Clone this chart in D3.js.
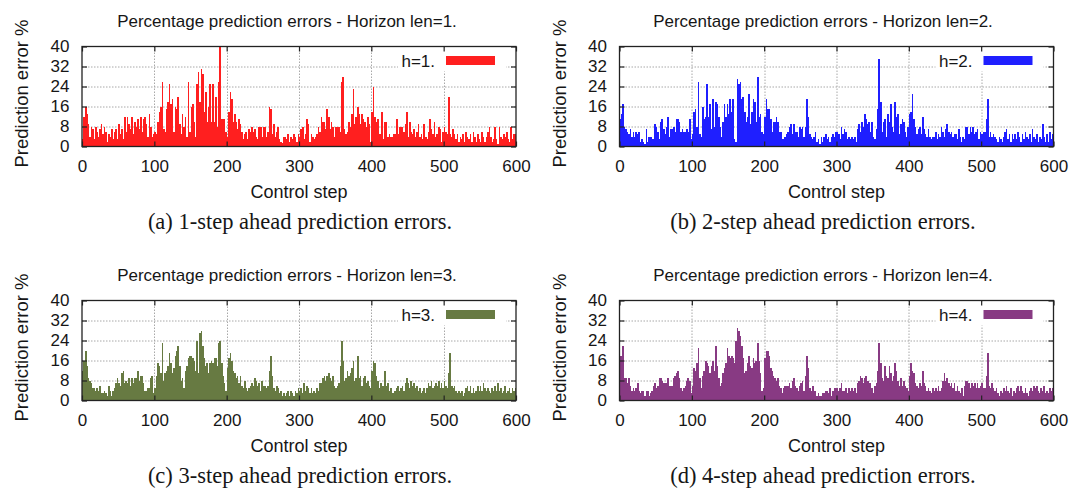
<!DOCTYPE html>
<html>
<head>
<meta charset="utf-8">
<script src="https://cdn.jsdelivr.net/npm/d3@7"></script>
<style>
  body { margin: 0; background: #fff; }
  svg text { font-family: "Liberation Sans", Arial, sans-serif; fill: #161616; }
  svg text.caption { font-family: "Liberation Serif", "Times New Roman", serif; }
</style>
</head>
<body>
<div id="chart"></div>
<script>

// ticks
var xTicks = [0, 100, 200, 300, 400, 500, 600];
var yTicks = [0, 8, 16, 24, 32, 40];

// one value every 2 control steps (0, 2, 4 ... 598)
var stepGap = 2;

var errH1 = [
  3,12,16,13,9, 4,8,7,3,8, 6,4,7,9,5, 8,6,2,5,4, 7,3,6,7,3,
  9,5,7,3,12, 6,12,9,7,12, 5,10,8,11,7, 12,6,11,12,9, 4,13,8,4,5,
  6,5,10,14,16, 26,7,6,15,18, 25,17,19,6,16, 15,20,9,5,13, 8,12,4,26,6,
  16,17,10,4,25, 30,18,31,29,14, 22,10,16,25,10, 25,10,20,8,26, 40,11,11,11,6,
  4,14,22,19,10, 13,10,7,11,9, 6,3,5,6,3, 7,6,8,6,7, 4,3,8,8,4,
  8,8,4,6,16, 15,5,9,4,6, 8,3,2,1.5,4, 4,3,5,2,4, 3,5,4,2,5,
  4,7,8,3,5, 11,9,2,5,4, 3,4,5,8,6, 12,10,10,7,15, 12,7,10,8,4,
  8,8,8,6,26, 28,7,5,6,10, 8,13,23,9,12, 16,13,9,13,11, 10,8,12,9,2,
  14,24,12,10,11, 5,5,14,3,10, 10,4,5,4,4, 5,5,11,5,8, 8,8,6,9,14,
  4,10,6,5,7, 4,6,9,4,5, 3,9,4,3,6, 11,7,5,10,4, 5,8,7,2,6,
  8,6,5,20,5, 4,7,5,3,5, 2,4,3,5,2, 6,4,3,5,2, 6,4,2,5,3,
  2,6,4,2,4, 6,8,4,2,3, 8,3,1,8,4, 3,5,4,6,3, 2,8,3,5,5
];

var errH2 = [
  11,13,17,8,7, 6,5,7,4,6, 4,6,5,6,2, 3,2,1,7,2, 4,4,3,3,9,
  8,6,3,10,11, 7,5,8,12,4, 7,7,8,6,11, 11,10,6,7,6, 6,7,6,11,3,
  5,14,15,8,26, 5,4,16,11,12, 25,12,17,7,19, 8,18,17,12,8, 4,10,17,12,17,
  13,19,14,19,3, 2,27,25,26,19, 20,14,10,12,21, 9,14,19,18,10, 28,12,13,6,5,
  12,19,15,15,11, 6,10,10,12,10, 6,6,3,3,4, 5,6,8,9,5, 9,6,6,4,8,
  7,8,4,8,19, 12,5,4,3,4, 6,2,3,1,4, 2,4,5,3,4, 2,4,5,4,6,
  6,5,3,8,5, 7,6,3,4,3, 4,3,4,2,7, 9,6,10,8,13, 11,9,10,6,10,
  4,3,7,15,35, 18,6,10,11,4, 13,10,17,8,6, 18,12,13,5,9, 11,10,6,4,8,
  13,14,21,11,8, 5,7,8,5,12, 7,5,4,7,4, 3,4,4,6,3, 5,4,8,6,4,
  7,9,6,5,6, 4,5,5,3,7, 4,2,4,3,8, 8,5,8,6,8, 5,6,7,3,6,
  5,6,6,11,19, 4,6,4,5,4, 3,2,4,3,2, 4,6,7,3,5, 2,5,3,5,3,
  6,4,2,5,3, 6,4,3,5,2, 7,4,3,5,2, 4,3,9,4,2, 5,2,6,3,5
];

var errH3 = [
  12,16,20,14,9, 8,7,5,5,4, 5,4,6,3,3, 4,3,2,6,4, 2,4,5,7,9,
  7,6,11,12,7, 8,7,9,6,9, 7,9,9,12,8, 10,10,7,4,4, 5,5,9,10,3,
  5,10,15,14,11, 23,8,11,12,14, 19,15,11,13,18, 20,22,14,8,9, 5,12,14,17,18,
  18,17,16,12,24, 11,27,28,22,17, 14,15,11,15,16, 15,17,17,14,23, 24,15,10,7,4,
  13,17,19,16,12, 11,9,10,7,10, 6,5,8,5,4, 5,6,7,6,9, 8,6,7,4,8,
  6,6,5,6,12, 18,10,5,4,6, 5,3,4,2,3, 2,3,4,2,4, 3,2,4,3,5,
  4,5,3,7,4, 6,5,3,5,3, 4,3,5,4,7, 7,9,10,8,10, 11,9,8,10,6,
  5,6,7,14,24, 16,8,9,12,10, 11,13,16,8,9, 18,9,10,6,9, 10,7,8,6,5,
  12,16,15,10,8, 5,7,6,6,12, 6,7,4,5,3, 3,4,5,6,4, 5,6,4,7,9,
  7,5,8,6,7, 5,6,4,5,3, 4,5,3,5,7, 6,8,5,6,7, 6,8,5,7,5,
  8,6,5,11,19, 6,5,6,4,3, 4,3,4,2,3, 5,6,4,6,3, 5,3,4,6,4,
  6,4,7,5,4, 5,4,3,5,4, 6,4,7,4,5, 3,4,6,3,4, 5,3,5,4,5
];

var errH4 = [
  18,18,22,9,9, 7,9,6,4,5, 4,5,7,4,3, 4,4,2,4,4, 2,3,4,6,7,
  5,6,9,9,8, 7,7,7,9,6, 6,6,9,10,11, 12,9,5,4,5, 6,8,9,8,3,
  6,13,12,15,21, 9,5,10,12,16, 15,14,11,14,16, 12,22,14,9,6, 7,11,13,15,21,
  18,17,18,17,15, 24,29,28,26,22, 17,11,12,15,18, 14,13,17,15,16, 23,16,11,4,5,
  17,20,20,18,13, 12,10,9,8,9, 6,5,3,5,6, 6,6,7,5,8, 9,6,5,4,6,
  7,8,4,10,18, 13,5,4,6,4, 4,2,3,2,2, 3,3,4,4,3, 5,2,4,5,5,
  5,4,5,7,4, 4,5,3,5,4, 5,4,5,3,7, 8,10,9,7,9, 10,8,7,7,5,
  3,6,7,12,23, 15,9,8,14,10, 9,14,11,8,10, 15,12,8,6,9, 6,8,6,5,4,
  10,15,12,11,7, 6,5,7,6,12, 7,6,4,5,4, 3,5,4,5,4, 6,4,5,8,11,
  8,9,7,6,7, 5,7,4,6,4, 3,5,2,6,8, 8,7,5,7,6, 7,5,7,5,6,
  7,5,5,10,19, 6,5,7,5,4, 5,3,2,4,3, 5,4,6,4,3, 5,2,4,3,5,
  6,4,6,4,3, 5,3,2,4,5, 4,6,5,6,4, 3,5,4,6,3, 4,3,5,4,5
];

var horizons = [1, 2, 3, 4];
var series = [errH1, errH2, errH3, errH4];
var colors = ["#ff1f1f", "#1f1fff", "#677a42", "#883a83"];
var captions = [
  "(a) 1-step ahead prediction errors.",
  "(b) 2-step ahead prediction errors.",
  "(c) 3-step ahead prediction errors.",
  "(d) 4-step ahead prediction errors."
];

var W = 1072, H = 490;
var plotW = 434, plotH = 100;

// where each panel sits on the page
var layout = [
  {left: 82,    top: 46.5,  titleX: 287, captionX: 300},
  {left: 619.5, top: 46.5,  titleX: 823, captionX: 823},
  {left: 82,    top: 300.5, titleX: 287, captionX: 300},
  {left: 619.5, top: 300.5, titleX: 823, captionX: 823}
];

var svg = d3.select("#chart").append("svg")
    .attr("width", W)
    .attr("height", H);

var x = d3.scaleLinear().domain([0, 600]).range([0, plotW]);
var y = d3.scaleLinear().domain([0, 40]).range([plotH, 0]);

horizons.forEach(function(h, k){
  var L = layout[k];
  var data = series[k];
  var g = svg.append("g").attr("transform", "translate(" + L.left + "," + L.top + ")");

  // grid
  g.append("g").selectAll("line.gy")
    .data(yTicks.filter(function(t){ return t > 0 && t < 40; }))
    .enter().append("line")
      .attr("x1", 0).attr("x2", plotW)
      .attr("y1", function(d){ return y(d) + 0.5; })
      .attr("y2", function(d){ return y(d) + 0.5; })
      .attr("stroke", "#a8a8a8").attr("stroke-dasharray", "1.5,1.5");
  g.append("g").selectAll("line.gx")
    .data(xTicks.filter(function(t){ return t > 0 && t < 600; }))
    .enter().append("line")
      .attr("y1", 0).attr("y2", plotH)
      .attr("x1", function(d){ return Math.round(x(d)) + 0.5; })
      .attr("x2", function(d){ return Math.round(x(d)) + 0.5; })
      .attr("stroke", "#a8a8a8").attr("stroke-dasharray", "1.5,1.5");

  // white box behind the key
  g.append("rect")
    .attr("x", 316).attr("y", 1)
    .attr("width", 108).attr("height", 24)
    .attr("fill", "#fff");

  // impulses
  var bw = x(stepGap) - x(0);
  g.append("g").attr("shape-rendering", "crispEdges")
    .selectAll("rect")
    .data(data)
    .enter().append("rect")
      .attr("x", function(d, i){ return x(i * stepGap); })
      .attr("width", bw + 0.2)
      .attr("y", function(d){ return y(Math.min(d, 40)); })
      .attr("height", function(d){ return y(0) - y(Math.min(d, 40)); })
      .attr("fill", colors[k]);

  // key
  g.append("text")
    .attr("x", 353).attr("y", 20)
    .attr("text-anchor", "end")
    .style("font-size", "17px")
    .text("h=" + h + ".");
  g.append("rect")
    .attr("x", 364).attr("y", 9.5)
    .attr("width", 49).attr("height", 9)
    .attr("fill", colors[k]);

  // axes: inward ticks on all sides
  g.append("g").attr("transform", "translate(0," + plotH + ")")
    .call(d3.axisBottom(x).tickValues(xTicks).tickSize(-5).tickPadding(13.5));
  g.append("g").call(d3.axisTop(x).tickValues(xTicks).tickSize(-5).tickFormat(""));
  g.append("g")
    .call(d3.axisLeft(y).tickValues(yTicks).tickSize(-5).tickPadding(12.5));
  g.append("g").attr("transform", "translate(" + plotW + ",0)")
    .call(d3.axisRight(y).tickValues(yTicks).tickSize(-5).tickFormat(""));

  g.selectAll(".domain").remove();
  g.selectAll(".tick line").attr("stroke", "#222").attr("stroke-width", 1.2);
  g.selectAll(".tick text").style("font-size", "17px").attr("fill", "#161616");

  // frame
  g.append("rect")
    .attr("x", 0).attr("y", 0)
    .attr("width", plotW).attr("height", plotH)
    .attr("fill", "none").attr("stroke", "#222").attr("stroke-width", 1.3);

  // labels
  g.append("text")
    .attr("transform", "translate(-54," + (plotH / 2 - 3) + ") rotate(-90)")
    .attr("text-anchor", "middle")
    .style("font-size", "18.5px")
    .text("Prediction error %");

  g.append("text")
    .attr("x", plotW / 2).attr("y", plotH + 51)
    .attr("text-anchor", "middle")
    .style("font-size", "18px")
    .text("Control step");

  svg.append("text")
    .attr("x", L.titleX).attr("y", L.top - 20)
    .attr("text-anchor", "middle")
    .style("font-size", "17px")
    .text("Percentage prediction errors - Horizon len=" + h + ".");

  svg.append("text")
    .attr("class", "caption")
    .attr("x", L.captionX).attr("y", L.top + 182)
    .attr("text-anchor", "middle")
    .style("font-size", "22.5px")
    .text(captions[k]);
});

</script>
</body>
</html>
